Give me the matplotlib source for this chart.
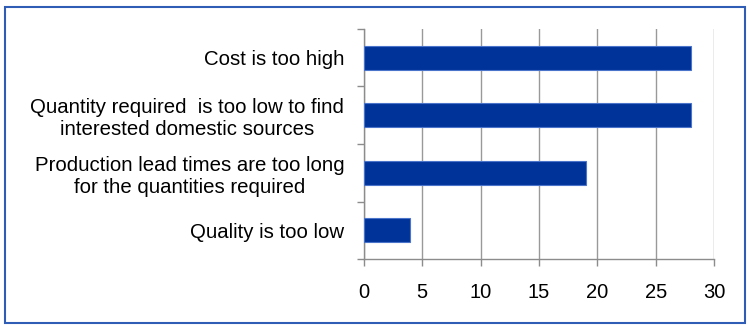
import matplotlib.pyplot as plt
from matplotlib.patches import Rectangle

plt.rcParams['font.family'] = ['Liberation Sans', 'DejaVu Sans']

categories = ['Cost is too high',
              'Quantity required  is too low to find\ninterested domestic sources',
              'Production lead times are too long\nfor the quantities required',
              'Quality is too low']
values = [28, 28, 19, 4]
xticks = [0, 5, 10, 15, 20, 25, 30]

fig = plt.figure(figsize=(7.5, 3.25), dpi=100)
ax = fig.add_axes([0.485, 0.203, 0.467, 0.708])

pos = list(range(len(categories)))[::-1]
ax.barh(pos, values, height=0.42, color='#003399', edgecolor='#4a74c9', linewidth=0.8, zorder=3)

ax.set_xlim(0, 30)
ax.set_ylim(-0.5, len(categories) - 0.5)
ax.set_xticks(xticks)
ax.set_xticklabels([str(t) for t in xticks], fontsize=14.5)
ax.tick_params(axis='x', length=5, width=1, color='#8c8c8c', pad=12)

# category labels between boundary ticks
ax.set_yticks([p - 0.5 for p in range(len(categories) + 1)])
ax.set_yticklabels([])
ax.set_yticks(pos, minor=True)
ax.set_yticklabels(categories, minor=True, fontsize=14.7, ha='right',
                   multialignment='center', linespacing=1.2)
ax.tick_params(axis='y', which='major', length=5, width=1, color='#8c8c8c')
ax.tick_params(axis='y', which='minor', length=0, pad=14)

ax.grid(axis='x', color='#999999', linewidth=1, zorder=0)
for s in ['top', 'right']:
    ax.spines[s].set_visible(False)
for s in ['left', 'bottom']:
    ax.spines[s].set_color('#8c8c8c')
    ax.spines[s].set_linewidth(1)

fig.patches.append(Rectangle((5 / 750, 2 / 325), 740 / 750, 316 / 325,
                             transform=fig.transFigure, fill=False,
                             edgecolor='#2f5db5', linewidth=1.5))

fig.savefig('out.png', dpi=100)
